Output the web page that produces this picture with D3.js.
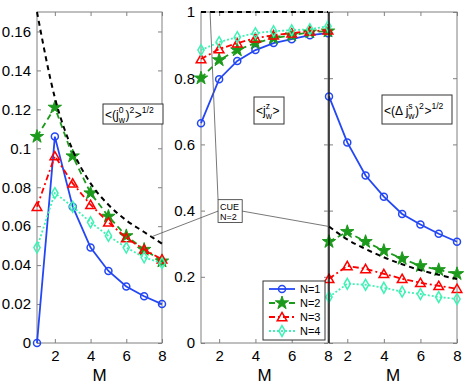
<!DOCTYPE html>
<html>
<head>
<meta charset="utf-8">
<script src="https://cdn.jsdelivr.net/npm/d3@7"></script>
<style>
  body { margin: 0; background: #fff; }
  svg text { font-family: "Liberation Sans", Arial, sans-serif; }
</style>
</head>
<body>
<div class="vis"></div>
<script>
// ---- data ----
var M = [1, 2, 3, 4, 5, 6, 7, 8];

// panel 1 : <(j_w^0)^2>^1/2
var j0_N1  = [0.000, 0.106, 0.070, 0.049, 0.037, 0.029, 0.024, 0.020];
var j0_N2  = [0.106, 0.121, 0.096, 0.077, 0.065, 0.055, 0.048, 0.042];
var j0_N3  = [0.070, 0.096, 0.082, 0.071, 0.062, 0.054, 0.048, 0.043];
var j0_N4  = [0.049, 0.077, 0.070, 0.062, 0.055, 0.049, 0.044, 0.041];
var j0_CUE = [0.170, 0.126, 0.099, 0.082, 0.071, 0.063, 0.057, 0.051];

// panel 2 : <j_w^z>
var jz_N1  = [0.664, 0.797, 0.852, 0.885, 0.906, 0.918, 0.930, 0.936];
var jz_N2  = [0.800, 0.855, 0.885, 0.906, 0.921, 0.930, 0.939, 0.942];
var jz_N3  = [0.858, 0.888, 0.906, 0.921, 0.930, 0.936, 0.942, 0.945];
var jz_N4  = [0.885, 0.909, 0.924, 0.936, 0.942, 0.945, 0.948, 0.957];
var jz_CUE = [1, 1, 1, 1, 1, 1, 1, 1];

// panel 3 : <(Delta j_w^s)^2>^1/2
var djs_N1  = [0.745, 0.606, 0.506, 0.442, 0.390, 0.358, 0.330, 0.306];
var djs_N2  = [0.306, 0.336, 0.306, 0.279, 0.255, 0.233, 0.221, 0.209];
var djs_N3  = [0.194, 0.233, 0.224, 0.209, 0.194, 0.182, 0.173, 0.164];
var djs_N4  = [0.139, 0.179, 0.176, 0.167, 0.155, 0.148, 0.139, 0.133];
var djs_CUE = [0.352, 0.313, 0.284, 0.259, 0.238, 0.220, 0.206, 0.193];

var xTicks  = [2, 4, 6, 8];
var yTicks1 = [0, 0.02, 0.04, 0.06, 0.08, 0.1, 0.12, 0.14, 0.16];
var yTicks2 = [0, 0.2, 0.4, 0.6, 0.8, 1];

var seriesNames = ['N=1', 'N=2', 'N=3', 'N=4'];

// ---- styles ----
var styles = [
  { color: '#2447f5', dash: null,      sym: 'circle',   fill: 'none' },
  { color: '#1c9a1c', dash: '6,4',     sym: 'star',     fill: 'fill' },
  { color: '#ff0000', dash: '6,3,2,3', sym: 'triangle', fill: 'none' },
  { color: '#3ff2b4', dash: '2,2',     sym: 'diamond',  fill: 'none' }
];
var axisGray = '#808080';

var svg = d3.select('div.vis').append('svg')
            .attr('width', 467)
            .attr('height', 385);

var top_ = 12, bottom_ = 343;

var panels = [
  { x0: 37,  x1: 162, ydom: [0, 0.17], yticks: yTicks1, labels: true,
    series: [j0_N1, j0_N2, j0_N3, j0_N4], cue: j0_CUE },
  { x0: 201, x1: 328, ydom: [0, 1], yticks: yTicks2, labels: true,
    series: [jz_N1, jz_N2, jz_N3, jz_N4], cue: jz_CUE },
  { x0: 329, x1: 457, ydom: [0, 1], yticks: yTicks2, labels: false,
    series: [djs_N1, djs_N2, djs_N3, djs_N4], cue: djs_CUE }
];

function marker(g, st, x, y) {
  if (st.sym === 'circle') {
    g.append('circle').attr('cx', x).attr('cy', y).attr('r', 3.5)
     .attr('fill', 'none').attr('stroke', st.color).attr('stroke-width', 1.5);
    return;
  }
  var type = st.sym === 'star' ? d3.symbolStar : st.sym === 'triangle' ? d3.symbolTriangle : d3.symbolDiamond;
  var size = st.sym === 'star' ? 55 : st.sym === 'triangle' ? 40 : 34;
  g.append('path')
   .attr('d', d3.symbol().type(type).size(size)())
   .attr('transform', 'translate(' + x + ',' + (st.sym === 'triangle' ? y + 1 : y) + ')')
   .attr('fill', st.fill === 'fill' ? st.color : 'none')
   .attr('stroke', st.color)
   .attr('stroke-width', st.sym === 'star' ? 1 : 1.5);
}

panels.forEach(function(p) {
  p.xs = d3.scaleLinear().domain([1, 8]).range([p.x0, p.x1]);
  p.ys = d3.scaleLinear().domain(p.ydom).range([bottom_, top_]);

  var g = svg.append('g');

  // frame
  g.append('rect').attr('x', p.x0).attr('y', top_)
   .attr('width', p.x1 - p.x0).attr('height', bottom_ - top_)
   .attr('fill', 'none').attr('stroke', axisGray).attr('stroke-width', 1);

  // axes with inward ticks
  var ax = g.append('g').attr('transform', 'translate(0,' + bottom_ + ')')
            .call(d3.axisBottom(p.xs).tickValues(xTicks).tickFormat(d3.format('d'))
                  .tickSizeInner(-4).tickSizeOuter(0).tickPadding(7));
  var axT = g.append('g').attr('transform', 'translate(0,' + top_ + ')')
            .call(d3.axisTop(p.xs).tickValues(xTicks).tickSizeInner(-4).tickSizeOuter(0).tickFormat(''));
  var ay = g.append('g').attr('transform', 'translate(' + p.x0 + ',0)')
            .call(d3.axisLeft(p.ys).tickValues(p.yticks).tickSizeInner(-4).tickSizeOuter(0).tickPadding(6)
                  .tickFormat(p.labels ? function(d) { return d === 0 ? '0' : String(+d.toFixed(2)); } : ''));
  var ayR = g.append('g').attr('transform', 'translate(' + p.x1 + ',0)')
            .call(d3.axisRight(p.ys).tickValues(p.yticks).tickSizeInner(-4).tickSizeOuter(0).tickFormat(''));

  [ax, axT, ay, ayR].forEach(function(a) {
    a.select('.domain').remove();
    a.selectAll('line').attr('stroke', axisGray);
    a.selectAll('text').style('font-size', '15px').attr('fill', '#000')
     .style('font-family', '"Liberation Sans", Arial, sans-serif');
  });

  // axis title
  g.append('text').attr('x', (p.x0 + p.x1) / 2).attr('y', 381)
   .attr('text-anchor', 'middle').style('font-size', '17px').text('M');

  var line = d3.line().x(function(d, i) { return p.xs(M[i]); })
                      .y(function(d) { return p.ys(d); });

  // series
  p.series.forEach(function(vals, k) {
    var st = styles[k];
    g.append('path').datum(vals).attr('d', line)
     .attr('fill', 'none').attr('stroke', st.color).attr('stroke-width', 1.8)
     .attr('stroke-dasharray', st.dash);
    vals.forEach(function(v, i) { marker(g, st, p.xs(M[i]), p.ys(v)); });
  });

  // CUE reference curve
  g.append('path').datum(p.cue)
   .attr('d', d3.line().curve(d3.curveMonotoneX)
                .x(function(d, i) { return p.xs(M[i]); })
                .y(function(d) { return p.ys(d); }))
   .attr('fill', 'none').attr('stroke', '#000').attr('stroke-width', 2)
   .attr('stroke-dasharray', '5,4');
});

// black left edge of right panel
svg.append('line').attr('x1', panels[2].x0).attr('x2', panels[2].x0)
   .attr('y1', top_).attr('y2', bottom_).attr('stroke', '#000').attr('stroke-width', 1.2);

// ---- rich-text labels in boxes ----
function richText(x, y, segs, size) {
  var small = size * 0.72;
  var cx = x;
  segs.forEach(function(s) {
    if (s.t !== undefined) {
      var t = svg.append('text').attr('x', cx).attr('y', y).style('font-size', size + 'px').text(s.t);
      cx += t.node().getComputedTextLength();
    } else {
      var w = 0;
      if (s.sub) {
        var a = svg.append('text').attr('x', cx).attr('y', y + 4).style('font-size', small + 'px').text(s.sub);
        w = Math.max(w, a.node().getComputedTextLength());
      }
      if (s.sup) {
        var b = svg.append('text').attr('x', cx).attr('y', y - 6).style('font-size', small + 'px').text(s.sup);
        w = Math.max(w, b.node().getComputedTextLength());
      }
      cx += w + 0.5;
    }
  });
}

function box(x, y, w, h) {
  svg.append('rect').attr('x', x).attr('y', y).attr('width', w).attr('height', h)
     .attr('fill', '#fff').attr('stroke', '#333').attr('stroke-width', 1);
}

box(103, 104, 60, 20);
richText(105, 119, [{ t: '<(j' }, { sub: 'w', sup: '0' }, { t: ')' }, { sup: '2' }, { t: '>' }, { sup: '1/2' }], 12);

box(254, 97, 30, 27);
richText(256, 115, [{ t: '<j' }, { sub: 'w', sup: 'z' }, { t: '>' }], 12);

box(382, 95, 70, 29);
richText(384, 115, [{ t: '<(\u0394 j' }, { sub: 'w', sup: 's' }, { t: ')' }, { sup: '2' }, { t: '>' }, { sup: '1/2' }], 12);

// ---- CUE annotation ----
var pm = panels[1];
var bx0 = pm.xs(1.94), bx1 = pm.xs(3.27), by0 = pm.ys(0.433), by1 = pm.ys(0.364);
var ann = svg.append('g').attr('stroke', '#555').attr('stroke-width', 0.8);
ann.append('line').attr('x1', pm.xs(1.5)).attr('y1', pm.ys(1)).attr('x2', bx0).attr('y2', by0);
ann.append('line').attr('x1', panels[0].xs(7.4)).attr('y1', panels[0].ys(0.0545)).attr('x2', bx0).attr('y2', (by0 + by1) / 2);
ann.append('line').attr('x1', panels[2].xs(1)).attr('y1', panels[2].ys(0.352)).attr('x2', bx1).attr('y2', (by0 + by1) / 2);
svg.append('rect').attr('x', bx0).attr('y', by0).attr('width', bx1 - bx0).attr('height', by1 - by0)
   .attr('fill', '#fff').attr('stroke', '#333').attr('stroke-width', 0.8);
svg.append('text').attr('x', bx0 + 2).attr('y', by0 + 10).style('font-size', '9px').text('CUE');
svg.append('text').attr('x', bx0 + 2).attr('y', by0 + 20).style('font-size', '9px').text('N=2');

// ---- legend ----
var leg = svg.append('g');
leg.append('rect').attr('x', 263).attr('y', 281).attr('width', 62).attr('height', 59)
   .attr('fill', '#fff').attr('stroke', '#333').attr('stroke-width', 1);
seriesNames.forEach(function(name, k) {
  var st = styles[k];
  var yy = 289 + k * 14;
  leg.append('line').attr('x1', 269).attr('x2', 295).attr('y1', yy).attr('y2', yy)
     .attr('stroke', st.color).attr('stroke-width', 1.8).attr('stroke-dasharray', st.dash);
  marker(leg, st, 282, yy);
  leg.append('text').attr('x', 300).attr('y', yy + 4).style('font-size', '11px').text(name);
});
</script>
</body>
</html>
